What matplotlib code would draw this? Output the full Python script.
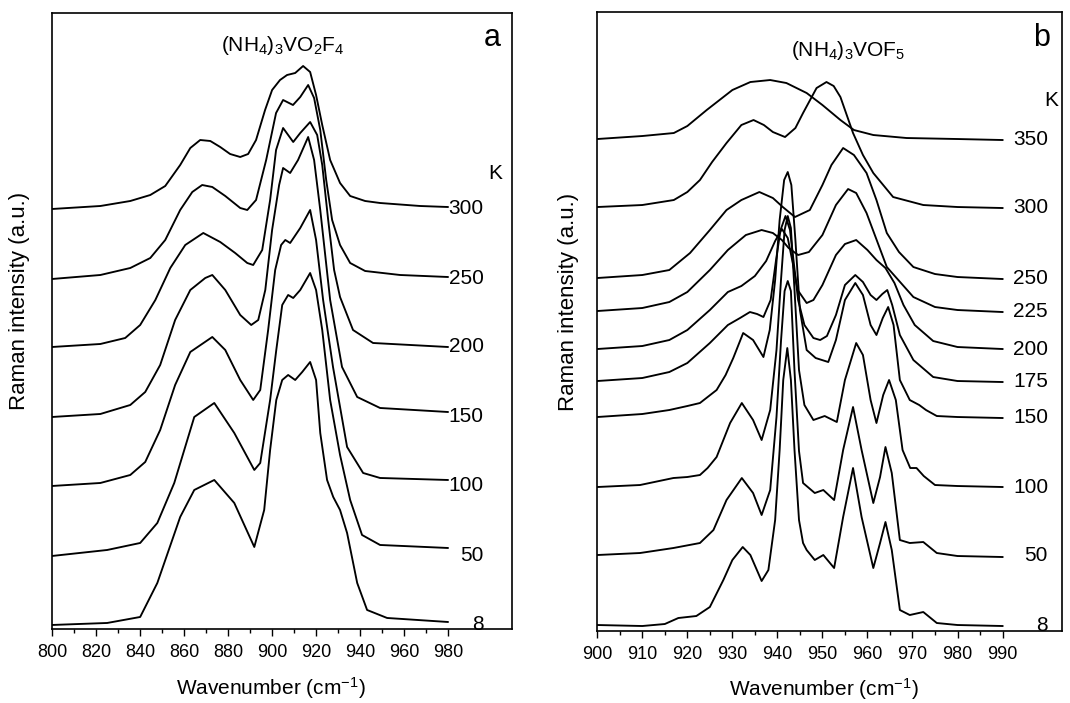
import matplotlib
matplotlib.use('Agg')
import matplotlib.pyplot as plt
from matplotlib.ticker import FixedLocator

plt.rcParams['font.family'] = ['Liberation Sans', 'DejaVu Sans']
plt.rcParams['mathtext.fontset'] = 'custom'
plt.rcParams['mathtext.rm'] = 'Liberation Sans'
plt.rcParams['mathtext.it'] = 'Liberation Sans:italic'
plt.rcParams['mathtext.bf'] = 'Liberation Sans:bold'

# ---------------- Panel a : (NH4)3VO2F4 ----------------
a_temps = ['300', '250', '200', '150', '100', '50', '8']
a_wn = [
    [800, 822, 835.6, 844.7, 851.5, 858.3, 862.9, 867.4, 872, 876.5, 881, 885.6, 889.2, 892.8, 896.9, 900.1,
     903.7, 906.9, 910.6, 914.2, 917.4, 920.1, 922.9, 926.5, 931, 935.6, 942.4, 949.2, 967.4, 980],
    [800, 822, 835.6, 844.7, 851.5, 858.3, 863.8, 868.3, 872.9, 878.8, 885.6, 888.8, 892.8, 897.4, 901.9,
     905.1, 909.6, 912.9, 916.5, 919.2, 922, 924.7, 927.4, 931, 935.6, 942.4, 958.3, 980],
    [800, 822, 833.3, 840.1, 847, 853.8, 860.6, 868.8, 876.5, 883.3, 888.8, 891.5, 895.6, 899.2, 901.9,
     905.1, 909.7, 912.9, 917.4, 920.6, 922.9, 925.6, 928.3, 931, 936.9, 946, 980],
    [800, 822, 835.6, 842.4, 849.2, 856, 862.9, 869.7, 872.9, 878.8, 885.6, 890.6, 893.8, 897, 900.1, 903.3,
     905.1, 908.3, 911.9, 916.5, 919.2, 922, 926.5, 931.9, 938.8, 949.2, 980],
    [800, 822, 835.6, 842.4, 849.2, 856, 862.9, 872.9, 878.8, 885.6, 891.5, 894.7, 898.3, 901.5, 904.2,
     906.1, 908.3, 912.9, 917.4, 920.1, 923.3, 927.8, 934.2, 941.5, 949.2, 980],
    [800, 825.1, 840.1, 847.9, 855.6, 864.7, 873.8, 882.9, 892, 894.7, 899.2, 902, 904.7, 907.4, 909.7,
     912.9, 917.4, 920.1, 922.9, 926.5, 931, 935.6, 941, 949.2, 980],
    [800, 825.1, 840.1, 847.9, 858.3, 864.7, 873.8, 882.9, 892, 896.5, 899.2, 902, 904.7, 907.4, 910.6,
     913.8, 917.4, 920.1, 922, 925.1, 927.9, 931, 934.2, 938.8, 943.3, 952.4, 980],
]
a_int = [
    [420, 423, 428, 434, 443, 464, 481, 489, 488, 482, 475, 472, 475, 489, 519, 539,
     549, 554, 556, 563, 557, 534, 504, 469, 446, 433, 428, 426, 423, 422],
    [350, 354, 361, 371, 389, 419, 437, 444, 442, 433, 421, 419, 429, 469, 516,
     529, 524, 532, 544, 531, 499, 449, 409, 384, 366, 358, 354, 352],
    [282, 285, 291, 304, 329, 361, 384, 396, 387, 376, 366, 364, 379, 429, 479,
     501, 487, 496, 507, 494, 464, 409, 359, 332, 299, 286, 282],
    [212, 215, 224, 237, 264, 309, 339, 351, 354, 339, 314, 304, 309, 339, 399, 444,
     461, 456, 469, 492, 469, 419, 329, 262, 232, 221, 217],
    [143, 146, 154, 167, 199, 244, 277, 292, 279, 249, 229, 239, 299, 359, 384,
     389, 386, 401, 419, 389, 329, 262, 182, 156, 151, 149],
    [73, 79, 86, 106, 146, 212, 226, 196, 159, 166, 229, 279, 324, 334, 331,
     339, 356, 339, 299, 229, 174, 129, 94, 84, 81],
    [4, 6, 12, 46, 112, 139, 149, 126, 82, 119, 179, 229, 249, 254, 249,
     257, 267, 249, 196, 149, 132, 119, 96, 46, 19, 11, 7],
]
a_ticks = [800, 820, 840, 860, 880, 900, 920, 940, 960, 980]
a_minor = [810, 830, 850, 870, 890, 910, 930, 950, 970]

# ---------------- Panel b : (NH4)3VOF5 ----------------
b_temps = ['350', '300', '250', '225', '200', '175', '150', '100', '50', '8']
b_wn = [
    [900, 910, 917, 920, 924.3, 930, 934, 938.4, 942, 946.5, 950, 954, 957, 961.3, 968.7, 980, 990],
    [900, 910, 917, 920, 922.8, 925.5, 928.7, 932, 934.7, 937, 939, 941.7, 944, 945.7, 948.7, 950.9,
     952.5, 954, 956.8, 959, 961.3, 965.7, 972.4, 980, 990],
    [900, 910, 916, 920.6, 925, 928.7, 932, 936, 939, 941.2, 943.9, 947.2, 950, 952, 954.6, 957,
     959.8, 962, 964.3, 967, 970.2, 975, 980, 990],
    [900, 910, 916, 920, 925, 929, 933, 936.5, 939, 941, 942.5, 944.6, 947, 950, 953, 955.7, 957.5,
     959.8, 964.3, 970.2, 975, 980, 990],
    [900, 910, 916, 920, 925, 929, 932, 935, 937.5, 939.5, 941, 942.3, 943.5, 944.5, 946.5, 948, 950,
     953, 955, 957.5, 960, 962, 964, 966, 968, 970.5, 974.6, 980, 990],
    [900, 910, 916, 920, 925, 929, 931.7, 933.9, 935.5, 936.9, 938.5, 939.7, 940.7, 941.8, 942.8, 943.7,
     944.6, 946, 948, 949.5, 951, 953, 955, 957.3, 959, 960.7, 962, 963.3, 964.4, 965.5, 967.2, 970.2,
     974.6, 980, 990],
    [900, 910, 916, 920, 922.8, 926.5, 928.5, 930.2, 932.4, 934.6, 936.9, 938.3, 939.5, 940.5, 941.5,
     942.3, 943.1, 944, 945, 946.5, 948.5, 951.3, 953, 955, 957.3, 959, 960.7, 962, 963.4, 964.6, 965.8,
     967.2, 969.4, 971.5, 973, 975.4, 980, 990],
    [900, 909.5, 916.9, 920, 922.8, 924.5, 926.5, 929.5, 932.1, 934.6, 936.5, 938.4, 939.8, 940.8, 941.6,
     942.3, 943, 943.8, 944.8, 946, 948, 950.5, 953.2, 955, 957.5, 959, 960.7, 962, 963.5, 964.8, 966.3,
     967.8, 969.5, 970.9, 972.5, 975, 980, 990],
    [900, 909.5, 916.9, 922.8, 925.8, 928.7, 932.1, 934.6, 936.5, 938.4, 939.8, 940.8, 941.6, 942.3, 943,
     943.8, 944.8, 945.7, 948.3, 950.2, 952.6, 954.6, 956.8, 958.7, 961.3, 962.8, 964, 965.4, 967.2,
     969.4, 972.4, 975.4, 980, 990],
    [900, 910, 915, 918, 922, 925, 928, 930, 932.3, 934, 936.5, 938, 939.5, 940.5, 941.3, 942.2, 943,
     943.8, 944.8, 945.7, 946.5, 948.3, 950.2, 952.6, 954.6, 956.8, 958.7, 961.3, 962.8, 964, 965.4,
     967.2, 969.4, 972.4, 975.4, 980, 990],
]
b_int = [
    [492, 495, 498, 505, 521, 541, 549, 551, 548, 538, 526, 511, 501, 496, 493, 492, 491],
    [424, 426, 431, 439, 451, 469, 488, 506, 511, 506, 499, 494, 503, 518, 543, 549,
     545, 534, 498, 476, 458, 434, 426, 424, 423],
    [353, 356, 361, 378, 401, 421, 431, 439, 433, 424, 414, 421, 446, 466, 483, 476,
     458, 431, 398, 379, 364, 357, 354, 352],
    [320, 323, 329, 339, 361, 381, 396, 401, 398, 391, 383, 376, 379, 396, 426, 442, 438,
     418, 364, 334, 324, 321, 319],
    [282, 285, 291, 301, 321, 339, 345, 355, 370, 390, 402, 393, 366, 341, 328, 331, 346,
     376, 387, 391, 381, 371, 363, 348, 326, 306, 290, 284, 282],
    [250, 253, 259, 268, 288, 306, 313, 319, 317, 314, 331, 371, 401, 415, 401, 366,
     331, 306, 293, 291, 295, 316, 346, 356, 349, 336, 331, 337, 341, 326, 296, 271,
     254, 250, 249],
    [214, 217, 221, 225, 228, 241, 256, 273, 298, 291, 274, 301, 351, 411, 451,
     459, 446, 391, 321, 281, 273, 269, 291, 331, 348, 336, 306, 296, 313, 324, 306,
     251, 231, 226, 221, 215, 214, 213],
    [144, 146, 153, 154, 156, 163, 174, 208, 228, 211, 191, 221, 281, 351, 401,
     415, 403, 341, 261, 226, 211, 215, 209, 251, 288, 276, 231, 208, 236, 251, 231,
     181, 163, 163, 155, 146, 145, 144],
    [76, 78, 83, 88, 101, 131, 153, 138, 116, 141, 214, 290, 340, 350, 340,
     260, 180, 148, 138, 141, 131, 181, 224, 181, 128, 154, 184, 158, 91,
     88, 89, 78, 75, 74],
    [6, 5, 7, 13, 15, 24, 51, 71, 84, 76, 50, 61, 111, 181, 251, 283, 251,
     181, 111, 88, 81, 71, 76, 63, 114, 163, 114, 63, 88, 109, 81,
     21, 16, 19, 8, 6, 5],
]
b_ticks = [900, 910, 920, 930, 940, 950, 960, 970, 980, 990]
b_minor = [905, 915, 925, 935, 945, 955, 965, 975, 985]

fig = plt.figure(figsize=(10.7, 7.03), dpi=100)
axA = fig.add_axes([0.0486, 0.1053, 0.4299, 0.8762])
axB = fig.add_axes([0.5582, 0.1024, 0.4343, 0.8805])


def style(ax, xlim, ylim, ticks, minor, xl_coords, yl_coords):
    ax.set_xlim(*xlim)
    ax.set_ylim(*ylim)
    ax.set_xticks(ticks)
    ax.set_xticklabels([str(t) for t in ticks])
    ax.xaxis.set_minor_locator(FixedLocator(minor))
    ax.set_yticks([])
    ax.tick_params(axis='x', which='major', direction='out', length=5, width=1.0,
                   labelsize=13, pad=6, top=False)
    ax.tick_params(axis='x', which='minor', direction='out', length=3, width=1.0, top=False)
    for s in ax.spines.values():
        s.set_linewidth(1.2)
    ax.set_xlabel('Wavenumber (cm$^{-1}$)', fontsize=15)
    ax.xaxis.set_label_coords(*xl_coords)
    ax.xaxis.label.set_va('center')
    ax.set_ylabel('Raman intensity (a.u.)', fontsize=16)
    ax.yaxis.set_label_coords(*yl_coords)
    ax.yaxis.label.set_va('center')
    ax.yaxis.label.set_ha('center')


style(axA, (800, 1009.2), (0, 616), a_ticks, a_minor, (0.476, -0.0958), (-0.07, 0.532))
style(axB, (900, 1003.2), (0, 619), b_ticks, b_minor, (0.487, -0.0937), (-0.062, 0.532))

for wn, it, t in zip(a_wn, a_int, a_temps):
    axA.plot(wn, it, color='black', lw=1.35, solid_joinstyle='round')
    axA.text(996.3, it[0], t, ha='right', va='center', fontsize=15)

for wn, it, t in zip(b_wn, b_int, b_temps):
    axB.plot(wn, it, color='black', lw=1.35, solid_joinstyle='round')
    axB.text(1000.1, it[0], t, ha='right', va='center', fontsize=15)

axA.text(905.1, 584, '(NH$_4$)$_3$VO$_2$F$_4$', ha='center', va='center', fontsize=15)
axB.text(955.7, 581, '(NH$_4$)$_3$VOF$_5$', ha='center', va='center', fontsize=15)
axA.text(1000.1, 591, 'a', ha='center', va='center', fontsize=22)
axB.text(998.7, 593, 'b', ha='center', va='center', fontsize=22)
axA.text(1001.8, 455, 'K', ha='center', va='center', fontsize=15)
axB.text(1000.9, 531, 'K', ha='center', va='center', fontsize=15)

fig.savefig('out.png', dpi=100)
